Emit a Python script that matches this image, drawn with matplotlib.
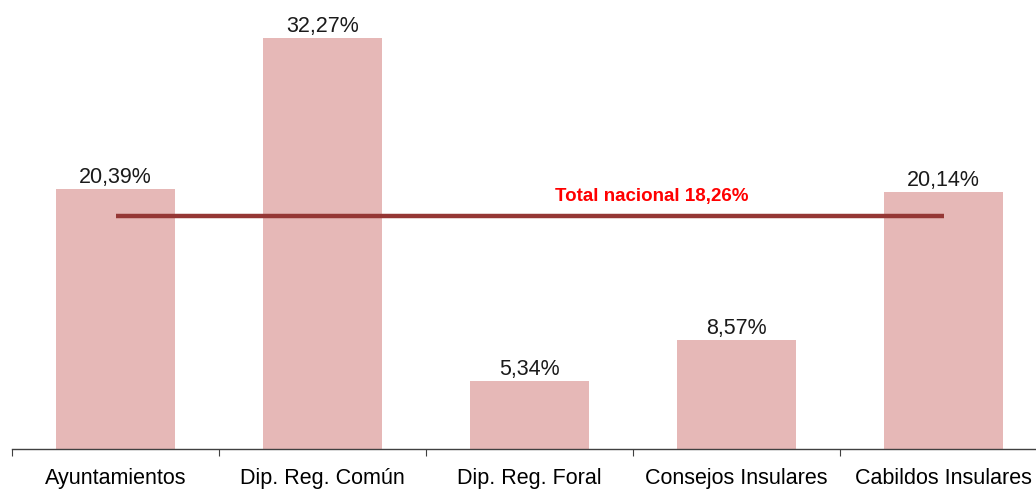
import numpy as np
import matplotlib.pyplot as plt
from matplotlib.ticker import FixedLocator

# datos
categorias = ['Ayuntamientos', 'Dip. Reg. Común', 'Dip. Reg. Foral',
              'Consejos Insulares', 'Cabildos Insulares']
valores = [20.39, 32.27, 5.34, 8.57, 20.14]
etiquetas = ['20,39%', '32,27%', '5,34%', '8,57%', '20,14%']
total_nacional = 18.26
texto_total = 'Total nacional 18,26%'

plt.rcParams['font.family'] = ['Liberation Sans', 'DejaVu Sans']

fig = plt.figure(figsize=(10.36, 4.92), dpi=100)
ax = fig.add_axes([12 / 1036, 43 / 492, 1035 / 1036, 446 / 492])

x = np.arange(len(categorias))
ax.bar(x, valores, width=0.575, color='#E6B8B7', zorder=1)

for xi, v, lab in zip(x, valores, etiquetas):
    ax.text(xi, v + 0.1, lab, ha='center', va='bottom', fontsize=15.5, color='#1a1a1a')

# linea del total nacional
ax.plot([x[0], x[-1]], [total_nacional, total_nacional], color='#953735', lw=3.2,
        solid_capstyle='butt', zorder=2)
ax.text(2.59, total_nacional + 0.85, texto_total, ha='center', va='bottom',
        fontsize=13.5, fontweight='bold', color='#FF0000')

ax.set_xlim(-0.5, len(categorias) - 0.5)
ax.set_ylim(0, 35)

for s in ['top', 'right', 'left']:
    ax.spines[s].set_visible(False)
ax.spines['bottom'].set_color('#404040')
ax.spines['bottom'].set_linewidth(1.0)

ax.set_yticks([])
ax.xaxis.set_major_locator(FixedLocator(np.arange(len(categorias) + 1) - 0.5))
ax.xaxis.set_minor_locator(FixedLocator(x))
ax.tick_params(axis='x', which='major', length=5, color='#404040', labelbottom=False)
ax.tick_params(axis='x', which='minor', length=0, pad=14, labelsize=15.5)
ax.set_xticklabels(categorias, minor=True)

fig.savefig('out.png', dpi=100)
